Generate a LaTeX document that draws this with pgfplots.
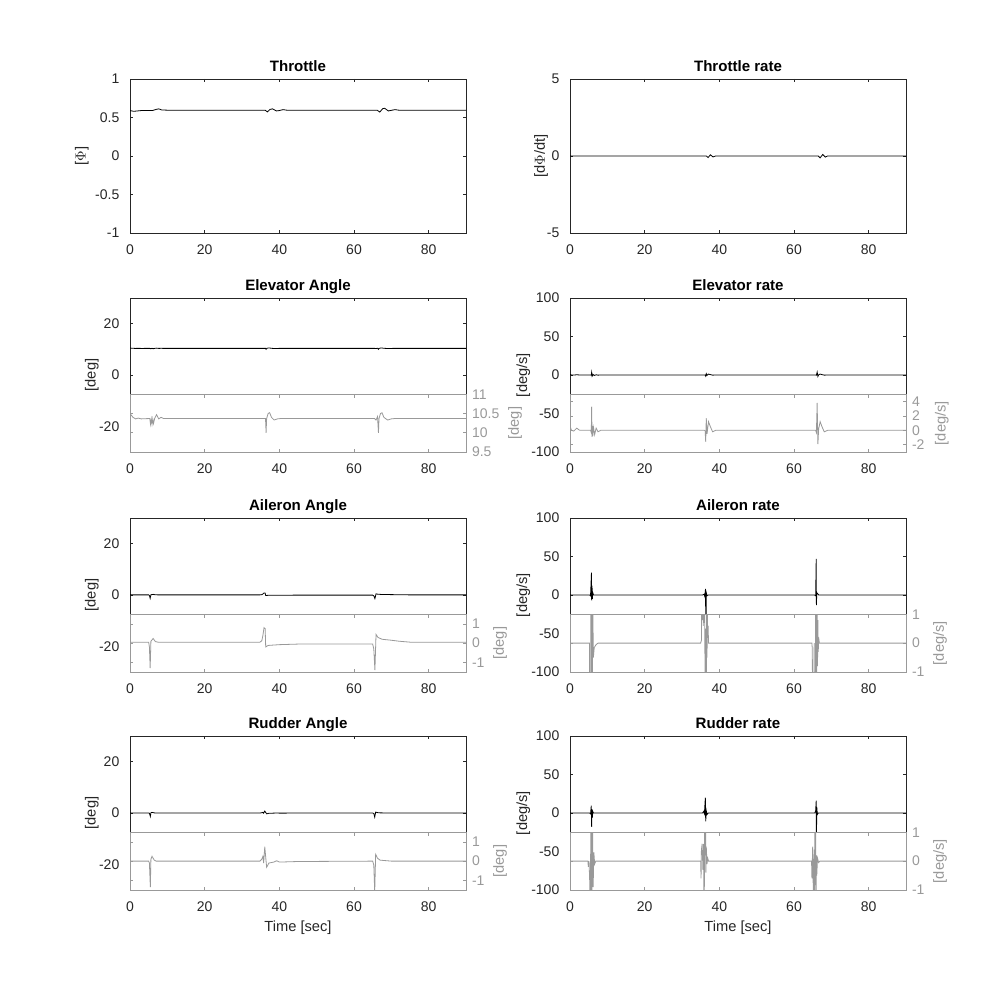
\documentclass[border=0pt]{standalone}
\usepackage{fontspec}
\setmainfont{Liberation Sans}
\usepackage{pgfplots}
\usepackage{pgfplotstable}
\pgfplotsset{compat=1.18}
\definecolor{axc}{HTML}{262626}
\definecolor{gr}{HTML}{999999}

\pgfplotstableread{
x y
0 0.59
1 0.58
2 0.585
3 0.59
6 0.59
7 0.605
7.7 0.612
8.5 0.598
10 0.595
36.2 0.595
36.8 0.573
37.5 0.605
38.2 0.612
39.2 0.585
40 0.59
41 0.602
42 0.595
66.2 0.595
66.9 0.57
67.7 0.615
68.2 0.62
69.2 0.585
70.2 0.595
71 0.602
72 0.595
90 0.595
}\thr

\pgfplotstableread{
x y
0 0
36.5 0
37 -0.1
37.6 0.08
38.3 -0.06
39 0
66.5 0
67 -0.12
67.7 0.1
68.4 -0.07
69 0
90 0
}\thrr

\pgfplotstableread{
x y
0 10.50
0.8 10.40
1.5 10.36
2.2 10.38
3 10.36
5.3 10.37
5.5 10.22
5.7 10.36
5.9 10.22
6.1 10.36
6.3 10.24
6.6 10.37
7.1 10.47
7.7 10.36
8.3 10.40
9 10.37
36.0 10.37
36.3 10.37
36.45 10.0
36.6 10.37
37.0 10.50
37.4 10.52
37.9 10.40
38.6 10.33
39.5 10.36
40.5 10.37
65.5 10.37
65.9 10.33
66.3 10.42
66.55 10.0
66.7 10.37
67.1 10.50
67.5 10.52
68.0 10.40
69.0 10.33
70.0 10.36
71 10.37
90 10.37
}\elev

\pgfplotstableread{
x y
0 0.6
0.4 0
1.0 -0.1
1.8 0.3
2.6 0
5.5 0
5.7 -0.3
5.8 3.3
5.9 -0.9
6.0 0.6
6.1 -0.8
6.3 0.4
6.6 -0.6
7.0 0.3
7.5 -0.2
8.2 0
36.0 0
36.2 -0.1
36.35 -1.6
36.5 1.7
36.7 -0.5
37.1 1.2
37.6 0.5
38.2 -0.2
39 0
65.8 0
66.0 -0.3
66.2 3.8
66.4 -1.9
66.6 0.2
67.0 1.2
67.5 0.5
68.1 -0.2
69 0
90 0
}\elevr

\pgfplotstableread{
x y
0 0.05
5.0 0.05
5.2 -0.2
5.4 -1.3
5.6 0.1
6.2 0.24
6.8 0.08
7.5 0.05
34.8 0.05
35.3 0.12
35.6 0.4
35.9 0.8
36.2 0.75
36.35 -0.2
37 -0.12
40 -0.08
45 -0.05
65 -0.05
65.3 -0.3
65.6 -1.4
65.9 0.45
66.4 0.3
67.5 0.2
70 0.15
72 0.1
75 0.05
90 0.05
}\ail

\pgfplotstableread{
x y
0 0
5.3 0
5.5 -1
5.75 29
5.8 -7
5.9 12
6.0 -5
6.1 3
6.3 0
35.5 0
35.9 1
36.1 -2
36.3 8
36.4 -60
36.5 3
36.7 -1
37 0
65.5 0
65.8 -1
65.95 47
66.0 -13
66.1 3
66.3 2
66.6 0
90 0
}\ailr

\pgfplotstableread{
x y
0 0
5.2 0
5.3 -3
5.5 -3
5.6 3
5.75 3
5.8 -3
5.9 2
6.0 -2
6.1 1.5
6.25 -0.5
6.5 -0.15
7 -0.05
7.5 0
35.0 0
35.2 0.1
35.3 2
35.5 0.8
35.6 2
35.7 0.6
35.8 2
35.9 0.7
36.0 2
36.1 0.4
36.2 -2
36.3 0.5
36.4 -3
36.5 -3
36.6 1
36.7 -0.5
36.8 1
36.9 0.3
37.0 0.6
37.1 0
37.3 0
64.8 0
64.9 -0.2
65.0 -3
65.3 -3
65.4 0
65.5 -3
65.6 -1
65.7 -3
65.8 2
65.9 -2
66.0 2
66.1 -1
66.2 1.5
66.3 -0.8
66.4 0.8
66.5 -0.3
66.6 0.2
66.8 0
90 0
}\ailrg

\pgfplotstableread{
x y
0 0
5.0 0
5.2 -0.1
5.45 -1.35
5.6 0.1
5.9 0.25
6.5 0.05
7 0
34.8 0
35.3 0.1
35.6 0.25
35.8 -0.1
36.1 0.75
36.4 0.1
36.6 -0.32
37.2 -0.1
38.5 -0.05
39.3 0.02
40 -0.05
45 -0.02
65.0 0
65.3 -0.2
65.55 -1.6
65.8 0.35
66.3 0.15
67 0.05
70 0
90 0
}\rud

\pgfplotstableread{
x y
0 0
5.3 0
5.5 -1
5.7 9.5
5.8 -18
5.9 5
6.0 -6
6.1 2
6.3 0
35.5 0
35.8 2
36.0 -1
36.25 20
36.35 -11
36.5 3
36.7 -2
37 0
65.6 0
65.8 3
65.95 16
66.0 -40
66.1 8
66.25 -2
66.5 0
90 0
}\rudr

\pgfplotstableread{
x y
0 0
4.8 0
4.9 -0.2
5.1 0
5.3 -0.8
5.4 -3
5.5 -0.9
5.6 3
5.7 -0.5
5.8 -3
5.9 -0.6
6.0 3
6.1 -0.3
6.2 -0.9
6.4 0.3
6.6 -0.1
6.9 0
35.0 0
35.1 -0.6
35.2 0.4
35.4 0.6
35.6 -0.3
35.8 0.6
35.9 -3
36.0 -0.5
36.1 3
36.2 0.2
36.3 3
36.4 -0.4
36.5 0.5
36.7 -0.1
36.9 0.1
37.1 0
64.7 0
64.8 -0.6
65.0 0.5
65.1 -0.4
65.3 -3
65.4 0.4
65.5 -3
65.6 3
65.7 -0.6
65.8 3
65.9 -3
66.0 0.2
66.1 -0.5
66.3 0.1
66.6 -0.05
66.9 0
90 0
}\rudrg

\pgfplotsset{
  base/.style={scale only axis, width=252pt, anchor=south west,
    xmin=0, xmax=90, xtick={0,20,40,60,80},
    /pgf/number format/assume math mode=true,
    tick align=inside, major tick length=2.5pt,
    every tick label/.append style={font=\fontsize{10.5}{12}\selectfont}},
  mainax/.style={base, height=115.5pt,
    axis line style={axc, line width=0.5pt},
    every tick/.append style={axc, line width=0.5pt},
    every tick label/.append style={text=axc},
    xticklabel style={yshift=-5pt}, yticklabel style={xshift=-4.5pt},
    every axis title/.style={at={(axis description cs:0.5,1)}, anchor=south, inner sep=3.33pt,
      font=\fontsize{11.3}{13}\selectfont\bfseries, text=black, text depth=0.2em},
    every axis x label/.style={at={(axis description cs:0.5,0)}, anchor=center, yshift=-28.5pt,
      font=\fontsize{11}{13}\selectfont, text=axc}},
  yl/.style={every axis y label/.style={at={(axis description cs:0,0.5)}, anchor=center,
      xshift=-#1, rotate=90, font=\fontsize{11}{13}\selectfont, text=axc}},
  inset/.style={base, height=43.3125pt,
    axis background/.style={fill=white},
    axis line style={gr, line width=0.5pt},
    every tick/.append style={gr, line width=0.5pt},
    every tick label/.append style={text=gr},
    xticklabels={},
    ytick pos=both, yticklabel pos=right,
    yticklabel style={xshift=1pt}},
  yr/.style={every axis y label/.style={at={(axis description cs:1,0.5)}, anchor=center,
      xshift=#1, rotate=90, font=\fontsize{11}{13}\selectfont, text=gr}},
  blk/.style={black, line width=0.6pt},
  gry/.style={gr, line width=0.6pt},
}

\begin{document}
\begin{tikzpicture}
% Row 1
\begin{axis}[mainax, yl=36.2pt, at={(97.5pt,575.25pt)}, title={Throttle}, ylabel={[$\Phi$]},
  ymin=-1, ymax=1, ytick={-1,-0.5,0,0.5,1}]
\addplot[blk] table {\thr};
\end{axis}
\begin{axis}[mainax, yl=21.75pt, at={(427.5pt,575.25pt)}, title={Throttle rate}, ylabel={[d$\Phi$/dt]},
  ymin=-5, ymax=5, ytick={-5,0,5}]
\addplot[blk] table {\thrr};
\end{axis}
% Row 2
\begin{axis}[mainax, yl=28.7pt, at={(97.5pt,411pt)}, title={Elevator Angle}, ylabel={[deg]},
  ymin=-30, ymax=30, ytick={-20,0,20}]
\addplot[blk] table {\elev};
\end{axis}
\begin{axis}[inset, yr=36.75pt, at={(97.5pt,411pt)}, ylabel={[deg]},
  ymin=9.5, ymax=11, ytick={9.5,10,10.5,11}]
\addplot[gry] table {\elev};
\end{axis}
\begin{axis}[mainax, yl=35pt, at={(427.5pt,411pt)}, title={Elevator rate}, ylabel={[deg/s]},
  ymin=-100, ymax=100, ytick={-100,-50,0,50,100}]
\addplot[blk] table {\elevr};
\end{axis}
\begin{axis}[inset, yr=26.8pt, at={(427.5pt,411pt)}, ylabel={[deg/s]},
  ymin=-3, ymax=5, ytick={-2,0,2,4}]
\addplot[gry] table {\elevr};
\node[text=gr, rotate=90, anchor=center, font=\fontsize{11}{13}\selectfont] at ([xshift=-42.75pt]axis description cs:0,0.5) {[deg]};
\end{axis}
% Row 3
\begin{axis}[mainax, yl=28.7pt, at={(97.5pt,246pt)}, title={Aileron Angle}, ylabel={[deg]},
  ymin=-30, ymax=30, ytick={-20,0,20}]
\addplot[blk] table {\ail};
\end{axis}
\begin{axis}[inset, yr=25.5pt, at={(97.5pt,246pt)}, ylabel={[deg]},
  ymin=-1.5, ymax=1.5, ytick={-1,0,1}]
\addplot[gry] table {\ail};
\end{axis}
\begin{axis}[mainax, yl=35pt, at={(427.5pt,246pt)}, title={Aileron rate}, ylabel={[deg/s]},
  ymin=-100, ymax=100, ytick={-100,-50,0,50,100}]
\addplot[blk] table {\ailr};
\end{axis}
\begin{axis}[inset, yr=25.5pt, at={(427.5pt,246pt)}, ylabel={[deg/s]},
  ymin=-1, ymax=1, ytick={-1,0,1}]
\addplot[gry] table {\ailrg};
\node[text=gr, rotate=90, anchor=center, font=\fontsize{11}{13}\selectfont] at ([xshift=-42.75pt]axis description cs:0,0.5) {[deg]};
\end{axis}
% Row 4
\begin{axis}[mainax, yl=28.7pt, at={(97.5pt,82.5pt)}, title={Rudder Angle}, ylabel={[deg]},
  xlabel={Time [sec]}, ymin=-30, ymax=30, ytick={-20,0,20}]
\addplot[blk] table {\rud};
\end{axis}
\begin{axis}[inset, yr=25.5pt, at={(97.5pt,82.5pt)}, ylabel={[deg]},
  ymin=-1.5, ymax=1.5, ytick={-1,0,1}]
\addplot[gry] table {\rud};
\end{axis}
\begin{axis}[mainax, yl=35pt, at={(427.5pt,82.5pt)}, title={Rudder rate}, ylabel={[deg/s]},
  xlabel={Time [sec]}, ymin=-100, ymax=100, ytick={-100,-50,0,50,100}]
\addplot[blk] table {\rudr};
\end{axis}
\begin{axis}[inset, yr=25.5pt, at={(427.5pt,82.5pt)}, ylabel={[deg/s]},
  ymin=-1, ymax=1, ytick={-1,0,1}]
\addplot[gry] table {\rudrg};
\node[text=gr, rotate=90, anchor=center, font=\fontsize{11}{13}\selectfont] at ([xshift=-42.75pt]axis description cs:0,0.5) {[deg]};
\end{axis}
\pgfresetboundingbox
\path[use as bounding box] (0,0) rectangle (750pt,750pt);
\end{tikzpicture}
\end{document}
